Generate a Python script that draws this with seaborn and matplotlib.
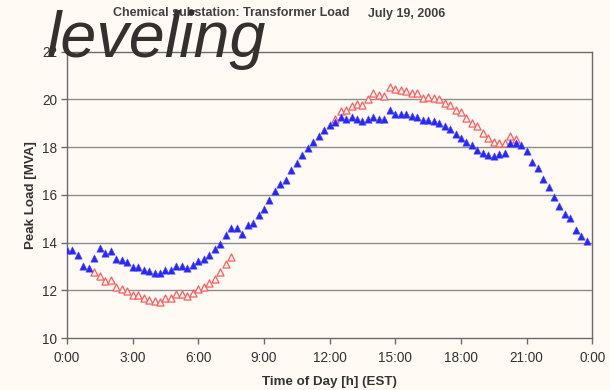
import numpy as np
import pandas as pd
import matplotlib
matplotlib.use("Agg")
import matplotlib.pyplot as plt
import seaborn as sns

# 15-minute peak load readings for July 19, 2006 [MVA]
actual_load = [
    13.68, 13.68, 13.47, 13.03, 12.92, 13.37, 13.78, 13.58,
    13.64, 13.30, 13.26, 13.17, 12.97, 12.97, 12.86, 12.79,
    12.72, 12.72, 12.87, 12.87, 13.03, 13.03, 12.94, 13.07,
    13.24, 13.33, 13.47, 13.71, 13.96, 14.32, 14.62, 14.60,
    14.35, 14.75, 14.83, 15.17, 15.39, 15.79, 16.18, 16.46,
    16.64, 17.04, 17.33, 17.68, 17.96, 18.22, 18.47, 18.71,
    18.94, 19.06, 19.26, 19.17, 19.26, 19.20, 19.08, 19.17,
    19.26, 19.17, 19.17, 19.55, 19.41, 19.38, 19.38, 19.30,
    19.26, 19.13, 19.13, 19.09, 19.02, 18.87, 18.78, 18.56,
    18.38, 18.23, 18.07, 17.88, 17.74, 17.66, 17.62, 17.71,
    17.77, 18.19, 18.19, 18.07, 17.85, 17.36, 17.11, 16.65,
    16.32, 15.93, 15.53, 15.19, 15.01, 14.51, 14.27, 14.07,
]

# leveled load, only where it departs from the actual load
nan = np.nan
leveled_load = (
    [nan] * 5
    + [12.76, 12.58, 12.40, 12.43, 12.12, 12.04, 11.95, 11.80, 11.80,
       11.66, 11.60, 11.54, 11.49, 11.66, 11.66, 11.84, 11.84, 11.74,
       11.88, 12.06, 12.15, 12.29, 12.47, 12.75, 13.12, 13.40]
    + [nan] * 18
    + [19.17, 19.50, 19.55, 19.74, 19.82, 19.78, 20.03, 20.25, 20.18,
       20.14, 20.52, 20.42, 20.40, 20.37, 20.28, 20.28, 20.07, 20.11,
       20.07, 20.01, 19.85, 19.78, 19.55, 19.47, 19.24, 19.03, 18.90,
       18.61, 18.37, 18.22, 18.19, 18.17, 18.46, 18.36]
    + [nan] * 13
)

hours = np.arange(96) * 0.25
x_ticks = [0, 3, 6, 9, 12, 15, 18, 21, 24]
x_tick_labels = ["0:00", "3:00", "6:00", "9:00", "12:00", "15:00", "18:00", "21:00", "0:00"]
y_ticks = [10, 12, 14, 16, 18, 20, 22]

df = pd.DataFrame({"hour": hours, "actual": actual_load, "leveled": leveled_load})

bg = "#fffaf4"
sns.set_theme(style="white")
plt.rcParams["font.family"] = ["Liberation Sans", "DejaVu Sans"]

fig = plt.figure(figsize=(6.1, 3.9), dpi=100, facecolor=bg)
ax = fig.add_axes([0.1098, 0.1333, 0.8612, 0.7341], facecolor=bg)

sns.scatterplot(data=df, x="hour", y="leveled", marker="^", s=26,
                facecolor=bg, edgecolor="#ff5c5c", linewidth=0.9, ax=ax, zorder=3)
sns.scatterplot(data=df, x="hour", y="actual", marker="^", s=28,
                color="#2626ff", edgecolor="#4a4aff", linewidth=0.4, ax=ax, zorder=4)

ax.set_xlim(0, 24)
ax.set_ylim(10, 22)
ax.set_xticks(x_ticks)
ax.set_xticklabels(x_tick_labels)
ax.set_yticks(y_ticks)
ax.set_yticklabels([str(v) for v in y_ticks])

ax.grid(False)
for v in y_ticks[1:-1]:
    ax.axhline(v, color="#8c8c8c", lw=1.0, zorder=1)

for side in ["left", "right", "top", "bottom"]:
    ax.spines[side].set_visible(True)
    ax.spines[side].set_color("#6b6b6b")
    ax.spines[side].set_linewidth(1.0)

ax.tick_params(axis="both", which="major", direction="out", length=4, width=1,
               color="#6b6b6b", labelsize=9.8, labelcolor="#333333")
ax.tick_params(axis="x", bottom=True, top=False, pad=5)
ax.tick_params(axis="y", left=True, right=False, pad=3)

ax.set_xlabel("Time of Day [h] (EST)", fontsize=9.6, fontweight="bold",
              color="#333333", labelpad=8)
ax.set_ylabel("Peak Load [MVA]", fontsize=9.6, fontweight="bold",
              color="#333333", labelpad=4)

fig.text(113 / 610, 1 - 16.5 / 390, "Chemical substation: Transformer Load",
         fontsize=9, fontweight="bold", color="#404040", ha="left", va="baseline")
fig.text(368 / 610, 1 - 16.5 / 390, "July 19, 2006",
         fontsize=9, fontweight="bold", color="#404040", ha="left", va="baseline")

fig.text(47 / 610, 1 - 57 / 390, "leveling", fontsize=46.5, style="italic",
         color="#34302d", ha="left", va="baseline", zorder=10)

fig.savefig("out.png", dpi=100, facecolor=bg)
